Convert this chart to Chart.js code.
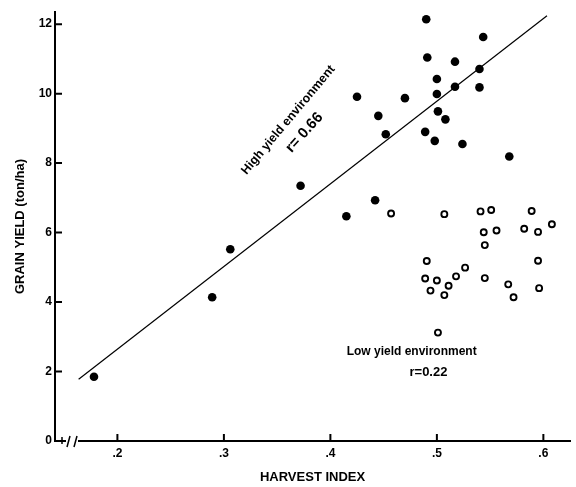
<!DOCTYPE html>
<html>
<head>
<meta charset="utf-8">
<script src="https://cdn.jsdelivr.net/npm/chart.js@4"></script>
<style>
  html, body { margin: 0; padding: 0; background: #fff; }
</style>
</head>
<body>
<canvas id="grafica" width="576" height="487"></canvas>
<script>
// datos (indice de cosecha vs rendimiento)
const altoX = [0.178, 0.289, 0.306, 0.372, 0.415, 0.442, 0.425, 0.445, 0.452, 0.470, 0.489, 0.490, 0.491,
               0.498, 0.500, 0.500, 0.501, 0.508, 0.517, 0.517, 0.524, 0.540, 0.540, 0.5435, 0.568];
const altoY = [1.85, 4.14, 5.52, 7.35, 6.47, 6.93, 9.91, 9.36, 8.83, 9.87, 8.90, 12.14, 11.04,
               8.64, 9.99, 10.42, 9.49, 9.26, 10.92, 10.20, 8.55, 10.71, 10.18, 11.63, 8.19];

const bajoX = [0.457, 0.507, 0.541, 0.551, 0.589, 0.608, 0.582, 0.595, 0.544, 0.556, 0.545, 0.4905,
               0.595, 0.5265, 0.489, 0.500, 0.518, 0.545, 0.567, 0.511, 0.494, 0.507, 0.596, 0.572, 0.501];
const bajoY = [6.55, 6.53, 6.61, 6.65, 6.62, 6.24, 6.11, 6.02, 6.01, 6.06, 5.64, 5.18,
               5.19, 4.99, 4.68, 4.62, 4.74, 4.69, 4.51, 4.47, 4.33, 4.20, 4.40, 4.14, 3.12];

// recta de regresion (alto rendimiento)
const rectaX = [0.1636, 0.6034];
const rectaY = [1.78, 12.24];

const xTicks = [0.2, 0.3, 0.4, 0.5, 0.6];
const xTickLabels = ['.2', '.3', '.4', '.5', '.6'];
const yTicks = [0, 2, 4, 6, 8, 10, 12];

const FUENTE = '"Liberation Sans", Arial, sans-serif';
Chart.defaults.font.family = FUENTE;
Chart.defaults.color = '#000';

// textos dentro del grafico (en coordenadas de datos)
const notas = [
  { text: 'High yield environment', x: 0.3605, y: 9.24, rot: -50, size: 12.5 },
  { text: 'r= 0.66', x: 0.3756, y: 8.88, rot: -48, size: 15 },
  { text: 'Low yield environment', x: 0.4763, y: 2.56, rot: 0, size: 12 },
  { text: 'r=0.22', x: 0.4921, y: 1.96, rot: 0, size: 13 }
];

const puntos = (xs, ys) => xs.map((v, i) => ({ x: v, y: ys[i] }));

const decoracion = {
  id: 'decoracion',
  afterDraw(chart) {
    const { ctx, chartArea: area } = chart;
    const sx = chart.scales.x, sy = chart.scales.y;
    ctx.save();
    ctx.strokeStyle = '#000';
    ctx.lineWidth = 2;

    // marcas hacia dentro
    ctx.beginPath();
    yTicks.forEach(v => {
      const py = sy.getPixelForValue(v);
      ctx.moveTo(area.left, py);
      ctx.lineTo(area.left + 7, py);
    });
    xTicks.forEach(v => {
      const px = sx.getPixelForValue(v);
      ctx.moveTo(px, area.bottom);
      ctx.lineTo(px, area.bottom - 7);
    });
    ctx.stroke();

    // corte del eje x
    const b = area.bottom;
    ctx.fillStyle = '#fff';
    ctx.fillRect(area.left + 11, b - 2, 12, 4);
    ctx.lineWidth = 1.5;
    ctx.beginPath();
    ctx.moveTo(area.left + 12, b + 6); ctx.lineTo(area.left + 15, b - 5);
    ctx.moveTo(area.left + 19, b + 6); ctx.lineTo(area.left + 22, b - 5);
    ctx.moveTo(area.left + 7, b - 4); ctx.lineTo(area.left + 7, b + 3);
    ctx.stroke();

    // textos
    ctx.fillStyle = '#000';
    ctx.textAlign = 'center';
    ctx.textBaseline = 'middle';
    notas.forEach(n => {
      ctx.save();
      ctx.translate(sx.getPixelForValue(n.x), sy.getPixelForValue(n.y));
      ctx.rotate(n.rot * Math.PI / 180);
      ctx.font = 'bold ' + n.size + 'px ' + FUENTE;
      ctx.fillText(n.text, 0, 0);
      ctx.restore();
    });
    ctx.restore();
  }
};

new Chart(document.getElementById('grafica'), {
  type: 'scatter',
  data: {
    datasets: [
      {
        label: 'High yield',
        data: puntos(altoX, altoY),
        backgroundColor: '#000',
        borderWidth: 0,
        pointRadius: 4.3
      },
      {
        label: 'Low yield',
        data: puntos(bajoX, bajoY),
        backgroundColor: '#fff',
        borderColor: '#000',
        borderWidth: 1.9,
        pointRadius: 3
      },
      {
        type: 'line',
        label: 'r = 0.66',
        data: puntos(rectaX, rectaY),
        borderColor: '#000',
        borderWidth: 1.2,
        pointRadius: 0,
        fill: false
      }
    ]
  },
  options: {
    responsive: false,
    animation: false,
    events: [],
    layout: { padding: { top: 12, right: 1, left: 0, bottom: 0 } },
    plugins: {
      legend: { display: false },
      tooltip: { enabled: false }
    },
    scales: {
      x: {
        type: 'linear',
        min: 0.1414,
        max: 0.6251,
        afterBuildTicks: s => { s.ticks = xTicks.map(v => ({ value: v })); },
        afterFit: s => { s.height = 46; s.paddingLeft = 0; s.paddingRight = 0; },
        grid: { display: false, drawTicks: false },
        border: { color: '#000', width: 2 },
        ticks: {
          padding: 5,
          autoSkip: false,
          maxRotation: 0,
          font: { size: 12, weight: 'bold' },
          callback: v => xTickLabels[xTicks.findIndex(t => Math.abs(t - v) < 1e-6)]
        },
        title: {
          display: true,
          text: 'HARVEST INDEX',
          font: { size: 13, weight: 'bold' },
          padding: { top: 0, bottom: 2 }
        }
      },
      y: {
        min: 0,
        max: 12.35,
        afterBuildTicks: s => { s.ticks = yTicks.map(v => ({ value: v })); },
        afterFit: s => { s.width = 55; s.paddingTop = 0; s.paddingBottom = 0; },
        grid: { display: false, drawTicks: false },
        border: { color: '#000', width: 2 },
        ticks: {
          padding: 3,
          font: { size: 12, weight: 'bold' }
        },
        title: {
          display: true,
          text: 'GRAIN YIELD (ton/ha)',
          font: { size: 13, weight: 'bold' },
          padding: { top: 13, bottom: 0 }
        }
      }
    }
  },
  plugins: [decoracion]
});
</script>
</body>
</html>
